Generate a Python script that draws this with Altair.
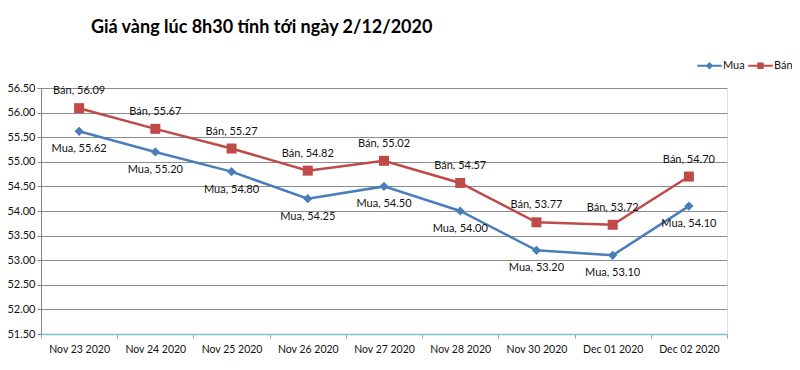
import altair as alt
import pandas as pd

dates = ["Nov 23 2020", "Nov 24 2020", "Nov 25 2020", "Nov 26 2020", "Nov 27 2020",
         "Nov 28 2020", "Nov 30 2020", "Dec 01 2020", "Dec 02 2020"]
mua = [55.62, 55.20, 54.80, 54.25, 54.50, 54.00, 53.20, 53.10, 54.10]
ban = [56.09, 55.67, 55.27, 54.82, 55.02, 54.57, 53.77, 53.72, 54.70]
series = ["Mua", "Bán"]
colors = ["#4A7EBB", "#BE4B48"]
y_ticks = [51.5, 52.0, 52.5, 53.0, 53.5, 54.0, 54.5, 55.0, 55.5, 56.0, 56.5]

rows = []
for d, m, b in zip(dates, mua, ban):
    rows.append({"date": d, "series": "Mua", "v": m})
    rows.append({"date": d, "series": "Bán", "v": b})
df = pd.DataFrame(rows)

FONT = "Lato"

x_enc = alt.X("date:N", sort=dates, title=None,
              scale=alt.Scale(type="band", domain=dates, paddingInner=0, paddingOuter=0),
              axis=alt.Axis(labelAngle=0, tickBand="extent", domainColor="#7CC3CF",
                            domainWidth=1.5, tickColor="#A0A0A0", tickSize=4,
                            labelPadding=6, labelFont=FONT, labelFontSize=10.5,
                            labelColor="#111111", grid=False))
y_enc = alt.Y("v:Q", title=None,
              scale=alt.Scale(domain=[51.5, 56.5], nice=False, zero=False),
              axis=alt.Axis(values=y_ticks, format=".2f", domainColor="#868686",
                            tickColor="#868686", tickSize=4, labelPadding=2,
                            labelFont=FONT, labelFontSize=11, labelColor="#111111",
                            grid=True, gridColor="#8C8C8C", gridWidth=1))
color_enc = alt.Color("series:N", title=None,
                      scale=alt.Scale(domain=series, range=colors))

base = alt.Chart(df)

lines = base.mark_line(strokeWidth=2.5).encode(x=x_enc, y=y_enc, color=color_enc)

points = base.mark_point(filled=True, opacity=1).encode(
    x=x_enc, y=y_enc, color=color_enc,
    shape=alt.condition(alt.datum.series == "Mua", alt.value("diamond"), alt.value("square")),
    size=alt.condition(alt.datum.series == "Mua", alt.value(85), alt.value(100)),
)

lab = base.transform_calculate(label="datum.series + ', ' + format(datum.v, '.2f')")
mua_text = lab.transform_filter(alt.datum.series == "Mua").mark_text(
    dy=18, font=FONT, fontSize=11, color="#111111").encode(x=x_enc, y=y_enc, text="label:N")
ban_text = lab.transform_filter(alt.datum.series == "Bán").mark_text(
    dy=-17, font=FONT, fontSize=11, color="#111111").encode(x=x_enc, y=y_enc, text="label:N")

diamond_leg = "M-1,-0.08L1,-0.08L1,0.08L-1,0.08Z M-0.3,0L0,-0.3L0.3,0L0,0.3Z"
square_leg = "M-1,-0.09L1,-0.09L1,0.09L-1,0.09Z M-0.26,-0.26L0.26,-0.26L0.26,0.26L-0.26,0.26Z"

legend_layer = base.transform_filter("false").mark_point(filled=True, opacity=1).encode(
    x=x_enc, y=y_enc, color=color_enc,
    shape=alt.Shape("series:N", title=None,
                    scale=alt.Scale(domain=series, range=[diamond_leg, square_leg]),
                    legend=alt.Legend(orient="none", legendX=656, legendY=-35,
                                      direction="horizontal", symbolSize=600,
                                      symbolStrokeWidth=0, labelFont=FONT,
                                      labelFontSize=11, labelColor="#111111",
                                      labelOffset=1, columnPadding=3, title=None)),
)

chart = alt.layer(lines, points, mua_text, ban_text, legend_layer).properties(
    width=686, height=246,
    title=alt.TitleParams("Giá vàng lúc 8h30 tính tới ngày 2/12/2020", anchor="start",
                          dx=84, offset=16, font=FONT, fontSize=18,
                          fontWeight="bold", color="#000000"),
    padding={"left": 33, "top": 80, "right": 65, "bottom": 28},
    autosize=alt.AutoSizeParams(type="none"),
).configure_view(stroke=None).configure(background="white")

chart.save("out.html", embed_options={"renderer": "svg", "actions": False})
